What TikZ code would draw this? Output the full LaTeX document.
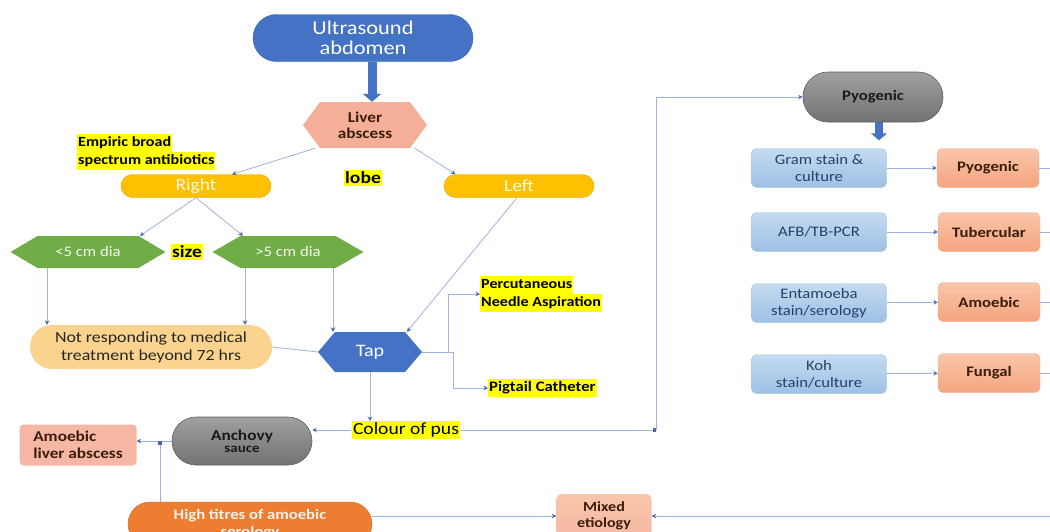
\documentclass[tikz,border=0pt]{standalone}
\usepackage{fontspec}
\setmainfont{Carlito}[FakeStretch=1.15]
\usetikzlibrary{shapes.misc,arrows.meta,calc}
\definecolor{blueN}{HTML}{4472C4}
\definecolor{blueD}{HTML}{3A64B0}
\definecolor{salH}{HTML}{F5AF98}
\definecolor{goldN}{HTML}{FFC000}
\definecolor{goldD}{HTML}{E0A800}
\definecolor{greenN}{HTML}{70AD47}
\definecolor{nrC}{HTML}{FAD48E}
\definecolor{grayT}{HTML}{A0A0A0}
\definecolor{grayB}{HTML}{727272}
\definecolor{grayD}{HTML}{5E5E5E}
\definecolor{lbT}{HTML}{C5DBF0}
\definecolor{lbB}{HTML}{9CC0E4}
\definecolor{lbD}{HTML}{A9C4E2}
\definecolor{lbText}{HTML}{24406E}
\definecolor{saT}{HTML}{F9C6AA}
\definecolor{saB}{HTML}{F4A47E}
\definecolor{saD}{HTML}{F2B196}
\definecolor{saText}{HTML}{3A1C0C}
\definecolor{pinkB}{HTML}{F6B8A4}
\definecolor{orangeN}{HTML}{ED7D31}
\definecolor{lineC}{HTML}{9DB3DC}
\definecolor{tipC}{HTML}{4A66A8}
\definecolor{hlY}{HTML}{FFFF00}
\newcommand{\fsz}[1]{\fontsize{#1pt}{\dimexpr #1pt*115/100\relax}\selectfont}
\newcommand{\hlt}[1]{{\setlength{\fboxsep}{1pt}\colorbox{hlY}{\strut #1}}}
\begin{document}
\begin{tikzpicture}[x=1pt,y=-1pt,
  every node/.style={align=center, inner sep=0pt},
  conn/.style={draw=lineC, line width=0.8pt, -{Stealth[length=4.5pt,width=4.5pt,color=tipC]}},
  plain/.style={draw=lineC, line width=0.8pt},
  junc/.style={draw=lineC, line width=0.8pt, -{Square[length=3.5pt,width=3.5pt,color=tipC]}},
  blockarrow/.style={draw=blueN, line width=#1, -{Triangle[length=8pt,width=18pt]}},
  pill/.style={rounded rectangle},
  hexa/.style 2 args={path picture={\fill[#1] ([xshift=#2]path picture bounding box.north west) -- ([xshift=-#2]path picture bounding box.north east) -- (path picture bounding box.east) -- ([xshift=-#2]path picture bounding box.south east) -- ([xshift=#2]path picture bounding box.south west) -- (path picture bounding box.west) -- cycle;}},
  hl/.style={fill=hlY, inner sep=1.5pt},
  lbox/.style={rounded corners=5pt, top color=lbT, bottom color=lbB, draw=lbD, minimum width=135pt, minimum height=39pt, text=lbText, font=\fsz{14.5}},
  sbox/.style={rounded corners=5pt, top color=saT, bottom color=saB, draw=saD, minimum width=102pt, minimum height=39pt, text=saText, font=\bfseries\fsz{14.5}},
  graypill/.style={pill, top color=grayT, bottom color=grayB, draw=grayD, line width=0.6pt, text=black!90, font=\bfseries}
]
\useasboundingbox (0,0) rectangle (1050,531);
\clip (0,0) rectangle (1050,531);
\fill[white] (0,0) rectangle (1050,531);

% left part
\node[pill, fill=blueN, draw=blueD, minimum width=220pt, minimum height=47pt, text=white, font=\fsz{19.5}] (us) at (363,38) {Ultrasound\\[-2pt]abdomen};
\node[hexa={salH}{17pt}, minimum width=124pt, minimum height=46pt, text=saText, font=\bfseries\fsz{15}] (liver) at (365,125) {Liver\\[-1pt]abscess};
\node[hl, font=\bfseries\fsz{17}] (lobe) at (363,178) {lobe};
\node[anchor=west, align=left, font=\bfseries\fsz{14}] (emp) at (77,152) {\hlt{Empiric broad}\\[-1.5pt]\hlt{spectrum antibiotics}};
\node[pill, fill=goldN, draw=goldD, minimum width=150pt, minimum height=23pt, text=white!92!goldN, font=\fsz{17}] (right) at (196,186) {Right};
\node[pill, fill=goldN, draw=goldD, minimum width=150pt, minimum height=23pt, text=white!92!goldN, font=\fsz{17}] (left) at (519,186) {Left};
\node[hexa={greenN}{27pt}, minimum width=155pt, minimum height=32pt, text=white!92!greenN, font=\fsz{14.5}] (lt5) at (88,252) {<5 cm dia};
\node[hl, font=\bfseries\fsz{17}] (size) at (187,252) {size};
\node[hexa={greenN}{28pt}, minimum width=151pt, minimum height=32pt, text=white!92!greenN, font=\fsz{14.5}] (gt5) at (288,252) {>5 cm dia};
\node[pill, fill=nrC, minimum width=242pt, minimum height=44pt, text=black!85, font=\fsz{15.5}] (nr) at (151,347) {Not responding to medical\\treatment beyond 72 hrs};
\node[hexa={blueN}{17pt}, minimum width=104pt, minimum height=40pt, text=white, font=\fsz{17.5}] (tap) at (370,352) {Tap};
\node[anchor=west, align=left, font=\bfseries\fsz{14}] (pna) at (480,294) {\hlt{Percutaneous}\\[-1.5pt]\hlt{Needle Aspiration}};
\node[anchor=west, font=\bfseries\fsz{14.5}] (pig) at (488,388) {\hlt{Pigtail Catheter}};
\node[hl, font=\fsz{17}] (pus) at (406,430) {Colour of pus};
\node[graypill, minimum width=140pt, minimum height=48pt] (anch) at (242,441) {{\fsz{15}Anchovy}\\{\fsz{13}sauce}};
\node[rounded corners=4pt, fill=pinkB, minimum width=117pt, minimum height=41pt, text=saText, align=left, font=\bfseries\fsz{15}] (ala) at (78,445) {Amoebic\\liver abscess};
\node[pill, fill=orangeN, draw=orangeN!85!black, minimum width=244pt, minimum height=44pt, text=white!90!orangeN, font=\bfseries\fsz{14.5}] (ht) at (250,524) {High titres of amoebic\\serology};
\node[rounded corners=5pt, top color=saT, bottom color=pinkB, minimum width=95pt, minimum height=44pt, text=saText, font=\bfseries\fsz{14}] (mixed) at (604,516) {Mixed\\etiology};

% right part
\node[graypill, minimum width=140pt, minimum height=50pt, font=\bfseries\fsz{14.5}] (pyo) at (873,97) {Pyogenic};
\node[lbox] (gram) at (819,168) {Gram stain \&\\culture};
\node[lbox] (afb) at (819,232) {AFB/TB-PCR};
\node[lbox] (ent) at (819,303) {Entamoeba\\stain/serology};
\node[lbox] (koh) at (819,374) {Koh\\stain/culture};
\node[sbox] (spyo) at (988,168) {Pyogenic};
\node[sbox] (tub) at (989,232) {Tubercular};
\node[sbox] (amo) at (989,302) {Amoebic};
\node[sbox] (fun) at (989,373) {Fungal};

\coordinate (j1) at (656,430);
\coordinate (j2) at (160,441);
\coordinate (edge) at (1052,0);

% block arrows
\draw[blockarrow=9pt] ([xshift=9pt]us.south) -- ([xshift=9pt]us.south |- liver.north);
\draw[draw=blueN, line width=8pt, -{Triangle[length=7pt,width=16pt]}] ([xshift=6pt]pyo.south) -- ++(0,18);

% connectors
\draw[conn] (liver.205) -- (right.18);
\draw[conn] (liver.-25) -- (left.north west);
\draw[conn] (right.south) -- ([xshift=52pt]lt5.north);
\draw[conn] (right.south) -- ([xshift=-45pt]gt5.north);
\draw[conn] ([xshift=-41pt]lt5.south) -- ([xshift=-41pt]lt5.south |- nr.north);
\draw[conn] ([xshift=-43pt]gt5.south) -- ([xshift=-43pt]gt5.south |- nr.north);
\draw[conn] ([xshift=45pt]gt5.south) -- ([xshift=45pt]gt5.south |- tap.north);
\draw[conn] ([xshift=-2pt]left.south) -- ([xshift=37pt]tap.north);
\draw[plain] (nr.east) -- (tap.west);
\draw[conn] (tap.east) -- ++(26,0) |- (pna.west);
\draw[conn] (tap.east) -- ++(31,0) |- (pig.west);
\draw[conn] (tap.south) -- (tap.south |- pus.north);
\draw[conn] (pus.west) -- (anch.east |- pus.west);
\draw[junc] (pus.east) -- (j1);
\draw[conn] (j1) |- (pyo.west);
\draw[conn] (anch.west) -- (anch.west -| ala.east);
\draw[junc] (ht.north -| j2) -- (j2);
\draw[conn] (ht.east |- mixed.west) -- (mixed.west);
\draw[conn] (mixed.east -| edge) -- (mixed.east);

\draw[conn] (gram) -- (spyo);
\draw[conn] (afb) -- (tub);
\draw[conn] (ent) -- (amo);
\draw[conn] (koh) -- (fun);
\draw[plain] (spyo.east) -- (spyo.east -| edge);
\draw[plain] (tub.east) -- (tub.east -| edge);
\draw[plain] (amo.east) -- (amo.east -| edge);
\draw[plain] (fun.east) -- (fun.east -| edge);
\end{tikzpicture}
\end{document}
